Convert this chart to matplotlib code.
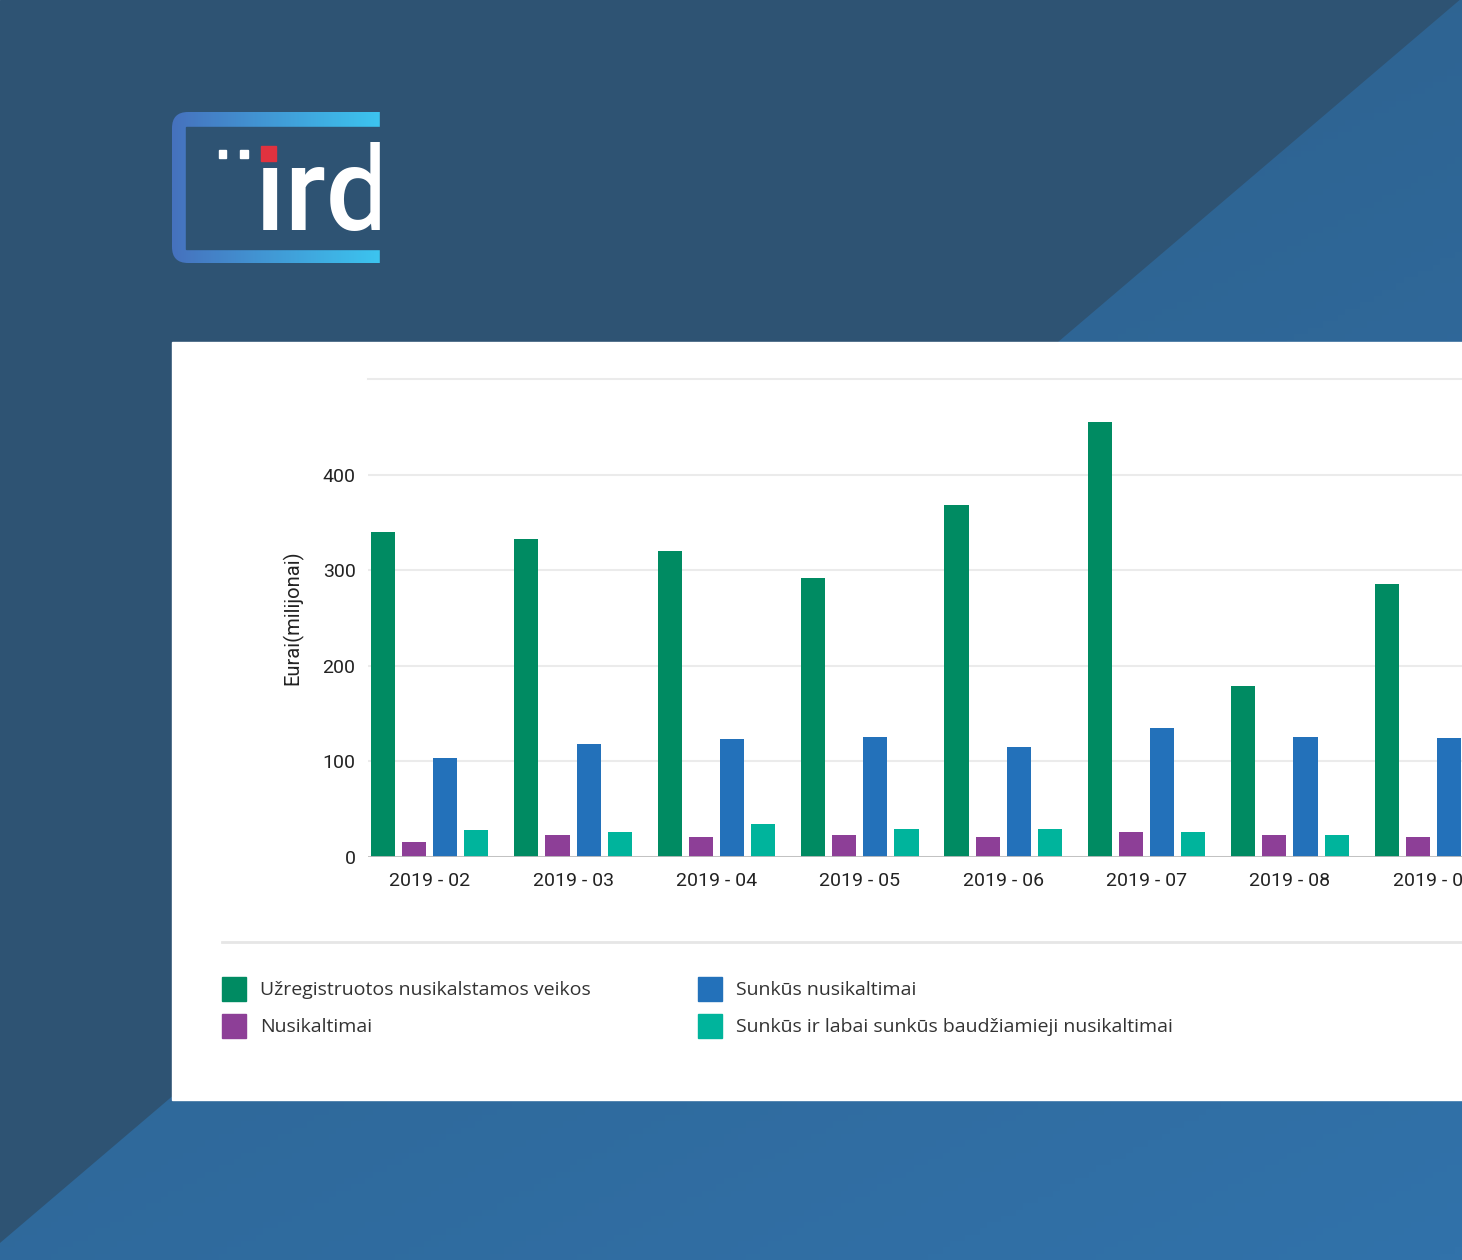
import numpy as np
import matplotlib
matplotlib.use('Agg')
import matplotlib.pyplot as plt
from matplotlib.patches import Rectangle, Polygon, FancyBboxPatch
from matplotlib.colors import LinearSegmentedColormap

# chart data
months = ['2019 - 02', '2019 - 03', '2019 - 04', '2019 - 05',
          '2019 - 06', '2019 - 07', '2019 - 08', '2019 - 09']
registered = [340, 333, 320, 292, 368, 455, 179, 286]
crimes = [16, 23, 21, 23, 21, 26, 23, 21]
serious = [104, 118, 123, 126, 115, 135, 126, 125]
very_serious = [28, 26, 34, 29, 29, 26, 23, np.nan]

series_names = ['Užregistruotos nusikalstamos veikos', 'Nusikaltimai',
                'Sunkūs nusikaltimai', 'Sunkūs ir labai sunkūs baudžiamieji nusikaltimai']
series_colors = ['#008b62', '#8d3f97', '#2371ba', '#00b49c']
yticks = [0, 100, 200, 300, 400]

W, H = 1462, 1260
fig = plt.figure(figsize=(W / 100, H / 100), dpi=100)

# background layer in pixel coords
bg = fig.add_axes([0, 0, 1, 1])
bg.set_xlim(0, W)
bg.set_ylim(H, 0)
bg.axis('off')
bg.add_patch(Rectangle((0, 0), W, H, color='#2e5373', zorder=0))

# lighter lower-right triangle with gradient
tri = Polygon([(1462, -2), (1462, H), (-20, H)], closed=True, fc='none', ec='none')
bg.add_patch(tri)
gy, gx = np.mgrid[0:1:200j, 0:1:200j]
grad = np.clip(0.5 * gy + 0.3 * gx, 0, 1)
cmap_bg = LinearSegmentedColormap.from_list('bgc', ['#2d5c85', '#3172aa'])
im = bg.imshow(grad, cmap=cmap_bg, extent=[0, W, H, 0], zorder=1, aspect='auto')
im.set_clip_path(tri)

# logo frame
frame = FancyBboxPatch((172, 112), 240, 151, boxstyle='round,pad=0,rounding_size=16',
                       fc='none', ec='none')
bg.add_patch(frame)
cmap_logo = LinearSegmentedColormap.from_list('logo', ['#4672be', '#3cc4ef'])
lg = bg.imshow(np.linspace(0, 1, 100)[None, :], cmap=cmap_logo,
               extent=[172, 380, 263, 112], zorder=2, aspect='auto')
lg.set_clip_path(frame)
bg.add_patch(Rectangle((186, 127), 200, 122, color='#2e5373', zorder=3))
bg.add_patch(Rectangle((219, 150), 7, 8, color='white', zorder=4))
bg.add_patch(Rectangle((240, 150), 8, 8, color='white', zorder=4))
bg.add_patch(Rectangle((261, 146), 15, 15, color='#e0323f', zorder=4))
bg.text(255, 230, '\u0131rd', color='white', fontsize=84, fontfamily='Roboto',
        fontweight='medium', ha='left', va='baseline', zorder=4)
# logo is cropped on the right
bg.add_patch(Rectangle((380, 100), 40, 180, color='#2e5373', zorder=4.5))

# white card
bg.add_patch(Rectangle((172, 342), W - 172, 758, color='white', zorder=5))
bg.plot([222, W], [942, 942], color='#e6e6e6', lw=2, zorder=6)

# legend
leg_pos = [(222, 989), (222, 1026), (698, 989), (698, 1026)]
for i, (lx, ly) in enumerate(leg_pos):
    bg.add_patch(Rectangle((lx, ly - 12), 24, 24, color=series_colors[i], zorder=6))
    bg.text(lx + 38, ly + 1, series_names[i], fontsize=14, fontfamily='Open Sans',
            color='#333333', va='center', ha='left', zorder=6)

# bar chart
ax = fig.add_axes([368 / W, 1 - 857 / H, (W - 368) / W, (857 - 379) / H])
ax.set_facecolor('none')
x = np.arange(len(months))
step = 0.217
width = 0.168
all_series = [registered, crimes, serious, very_serious]
for i, vals in enumerate(all_series):
    ax.bar(x + (i - 1.5) * step, vals, width, color=series_colors[i], zorder=3)

ax.set_xlim(-0.43, 7.20)
ax.set_ylim(0, 500)
ax.set_yticks(yticks)
ax.set_yticklabels([str(v) for v in yticks])
ax.set_xticks(x)
ax.set_xticklabels(months)
for s in ax.spines.values():
    s.set_visible(False)
ax.tick_params(length=0, labelsize=14, labelcolor='#222222')
ax.tick_params(axis='y', pad=9)
ax.tick_params(axis='x', pad=11)
for lab in ax.get_xticklabels() + ax.get_yticklabels():
    lab.set_fontfamily('Roboto')
ax.grid(axis='y', color='#ebebeb', lw=1.5, zorder=0)
ax.axhline(500, color='#ebebeb', lw=1.5, clip_on=False, zorder=0)
ax.axhline(0, color='#bdbdbd', lw=2, zorder=4)
ax.set_ylabel('Eurai(milijonai)', fontsize=14.5, fontfamily='Roboto', color='#222222',
              labelpad=14)

fig.savefig('out.png', dpi=100)
